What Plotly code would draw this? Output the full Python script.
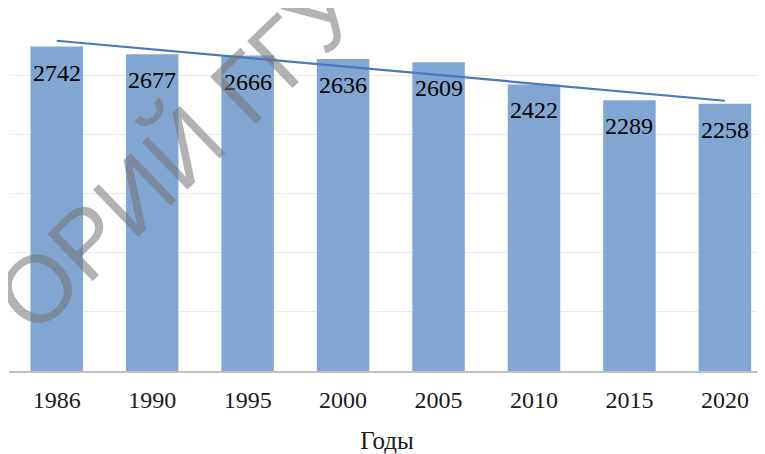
import numpy as np
import plotly.graph_objects as go

years = ["1986", "1990", "1995", "2000", "2005", "2010", "2015", "2020"]
values = [2742, 2677, 2666, 2636, 2609, 2422, 2289, 2258]
x_title = "Годы"
watermark = "ОРИЙ ГГУ"

idx = np.arange(len(values))
slope, intercept = np.polyfit(idx, values, 1)
trend = slope * idx + intercept

fig = go.Figure()
fig.add_trace(go.Bar(
    x=years, y=values,
    marker=dict(color="#82A6D2", line=dict(width=0)),
    showlegend=False, hoverinfo="skip",
))
fig.add_trace(go.Scatter(
    x=years, y=trend, mode="lines",
    line=dict(color="#4A78BC", width=2.2),
    showlegend=False, hoverinfo="skip",
))

for i, v in enumerate(values):
    fig.add_annotation(
        x=i, y=v, text=str(v), showarrow=False,
        yanchor="top", yshift=-11,
        font=dict(family="Liberation Serif", size=24, color="#000000"),
    )

fig.add_annotation(
    xref="paper", yref="paper", x=-0.05, y=0.614,
    text=watermark, showarrow=False, textangle=-44,
    font=dict(family="Liberation Sans", size=95, color="rgba(115,115,115,0.55)"),
)

fig.update_layout(
    width=757, height=446,
    margin=dict(l=1, r=0, t=8, b=81),
    paper_bgcolor="white", plot_bgcolor="white",
    bargap=0.45,
    xaxis=dict(
        range=[-0.5, 7.42],
        showline=True, linecolor="#BFBFBF", linewidth=1.5,
        showgrid=False, ticks="",
        tickfont=dict(family="Liberation Serif", size=24, color="#1A1A1A"),
        ticklabelstandoff=6,
        title=dict(text=x_title, standoff=24,
                   font=dict(family="Liberation Serif", size=25, color="#1A1A1A")),
    ),
    yaxis=dict(
        range=[0, 3000], dtick=500,
        showgrid=True, gridcolor="#EBEBEB", gridwidth=1.2,
        showticklabels=False, zeroline=False, showline=False,
    ),
)

fig.write_html("out.html")
